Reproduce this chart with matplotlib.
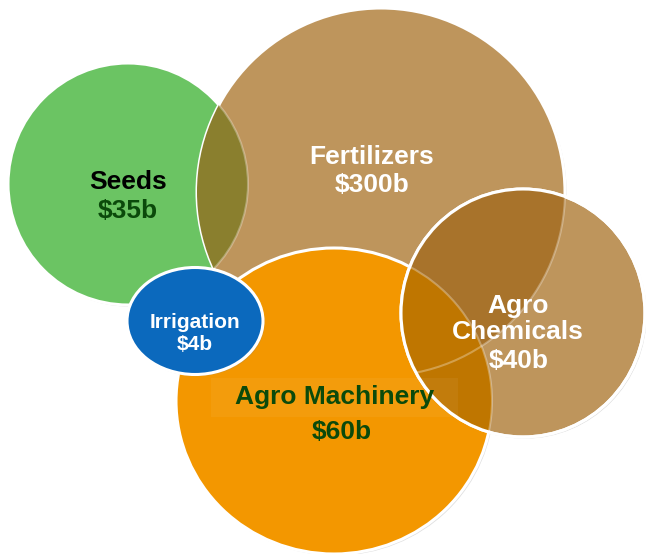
import matplotlib.pyplot as plt
from matplotlib.patches import Ellipse, Rectangle
import matplotlib.patheffects as pe

# Datos del diagrama: mercados agrícolas (miles de millones de USD)
names = ["Seeds", "Fertilizers", "Agro Machinery", "Agro\nChemicals", "Irrigation"]
values = [35, 300, 60, 40, 4]

# Disposición (en píxeles de la imagen) y estilos
centers = [(128, 184), (381, 192), (334, 401), (523, 313), (195, 321)]
sizes = [(240, 242), (368, 368), (316, 306), (244, 248), (136, 107)]
fills = ["#6BC463", "#BE955C", "#F39700", "#BE955C", "#0B69BD"]
name_colors = ["black", "white", "#0B4A0B", "white", "white"]
value_colors = ["#0B4A0B", "white", "#0B4A0B", "white", "white"]
name_x = [128, 372, 335, 518, 195]
value_x = [128, 372, 342, 519, 195]
name_y = [182, 157, 397, 319, 322]
value_y = [211, 185, 432, 361, 344]
font_sizes = [19, 19, 19, 19, 15]

plt.rcParams['font.family'] = ['Liberation Sans', 'DejaVu Sans']

fig = plt.figure(figsize=(6.46, 5.54), dpi=100)
ax = fig.add_axes([0, 0, 1, 1])
ax.set_xlim(0, 646)
ax.set_ylim(554, 0)
ax.axis('off')

shadow = [pe.SimplePatchShadow(offset=(1.2, -1.2), alpha=0.25, shadow_rgbFace='gray'), pe.Normal()]

patches = []
for c, (w, h), col in zip(centers, sizes, fills):
    p = Ellipse(c, w, h, facecolor=col, edgecolor='white', linewidth=2.2, zorder=len(patches) + 1)
    p.set_path_effects(shadow)
    ax.add_patch(p)
    patches.append(p)

seeds, fert, mach, chem, irr = patches


def overlap(base_idx, clip_patch, color, z):
    o = Ellipse(centers[base_idx], *sizes[base_idx], facecolor=color, edgecolor='none', zorder=z)
    ax.add_patch(o)
    o.set_clip_path(clip_patch)
    return o


def faint_edge(idx, clip_patch, z):
    e = Ellipse(centers[idx], *sizes[idx], facecolor='none', edgecolor='white',
                linewidth=1.5, alpha=0.3, zorder=z)
    ax.add_patch(e)
    e.set_clip_path(clip_patch)


# superposiciones
overlap(0, fert, "#8A7F2E", 2.1)
faint_edge(0, fert, 2.2)
overlap(1, chem, "#A8732B", 4.1)
overlap(2, chem, "#BF7600", 4.2)
faint_edge(1, chem, 4.3)
faint_edge(2, chem, 4.3)
# redibujar el borde de Agro Chemicals sobre las superposiciones
ax.add_patch(Ellipse(centers[3], *sizes[3], facecolor='none', edgecolor='white', linewidth=2.2, zorder=4.4))

# cuadro de texto de Agro Machinery
ax.add_patch(Rectangle((211, 378), 247, 39, facecolor='white', alpha=0.05, edgecolor='none', zorder=4.5))

for i, (n, v) in enumerate(zip(names, values)):
    ax.text(name_x[i], name_y[i], n, ha='center', va='center', fontsize=font_sizes[i], fontweight='bold',
            color=name_colors[i], linespacing=1.1, zorder=10)
    ax.text(value_x[i], value_y[i], f"${v}b", ha='center', va='center', fontsize=font_sizes[i],
            fontweight='bold', color=value_colors[i], zorder=10)

fig.savefig("out.png", dpi=100)
